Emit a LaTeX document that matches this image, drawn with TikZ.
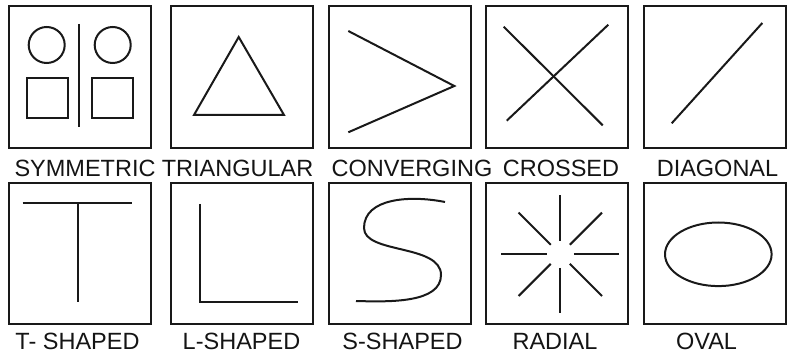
\documentclass[tikz,border=0pt]{standalone}
\usepackage{fontspec}
\setmainfont{Liberation Sans}
\usetikzlibrary{calc}
\begin{document}
\begin{tikzpicture}[x=1pt,y=-1pt,
  ink/.style={draw=black!90, line width=2pt},
  frame/.style={draw=black!90, line width=2.4pt},
  lbl/.style={anchor=base, inner sep=0pt, font=\fontsize{23.5}{28}\selectfont, text=black!92}]
\useasboundingbox (0,0) rectangle (791,355);
% frames
\foreach \x/\n in {9/a,171/b,329/c,486/d,644/e}{
  \draw[frame] (\x,6) rectangle ++(142,142);
  \draw[frame] (\x,183) rectangle ++(142,141);
}
% SYMMETRIC
\draw[ink] (79.3,24) -- (79.3,127);
\draw[ink] (46.7,45) circle (18);
\draw[ink] (112.7,45) circle (18);
\draw[ink] (26.7,78) rectangle (67.7,118);
\draw[ink] (92,78) rectangle (133,118);
% TRIANGULAR
\draw[ink, line join=miter] (238.7,37) -- (194,115) -- (284,115) -- cycle;
% CONVERGING
\draw[ink] (348.3,31) -- (454.3,86) -- (348.3,132.3);
% CROSSED
\draw[ink] (503.7,26.7) -- (602.7,125.3);
\draw[ink] (608.3,24.7) -- (506.7,120.7);
% DIAGONAL
\draw[ink] (762.3,23) -- (671.7,123.3);
% T-SHAPED
\draw[ink] (22.7,203) -- (131.7,203);
\draw[ink] (77.7,203) -- (77.7,302);
% L-SHAPED
\draw[ink] (200,204) -- (200,302.3) -- (297.7,302.3);
% S-SHAPED
\draw[ink] (445,202) .. controls (410,195) and (364,198) .. (364,228)
  .. controls (364,254) and (441,244) .. (441,275)
  .. controls (441,303) and (390,302) .. (356,301);
% RADIAL
\coordinate (rc) at (560.3,254.3);
\foreach \a in {0,45,...,315}{
  \draw[ink] ($(rc)+(\a:13.5)$) -- ($(rc)+(\a:59)$);
}
% OVAL
\draw[ink] (718.3,254.3) ellipse (53.3 and 31.8);
% labels
\node[lbl] (l1) at (85,177) {SYMMETRIC};
\node[lbl] (l2) at (237.5,177) {TRIANGULAR};
\node[lbl] (l3) at (412,177) {CONVERGING};
\node[lbl] (l4) at (561,177) {CROSSED};
\node[lbl] (l5) at (717.5,177) {DIAGONAL};
\node[lbl] (l6) at (77.5,349.3) {T- SHAPED};
\node[lbl] (l7) at (241.5,349.3) {L-SHAPED};
\node[lbl] (l8) at (402.5,349.3) {S-SHAPED};
\node[lbl] (l9) at (555,349.3) {RADIAL};
\node[lbl] (l10) at (706.5,349.3) {OVAL};
\end{tikzpicture}
\end{document}
